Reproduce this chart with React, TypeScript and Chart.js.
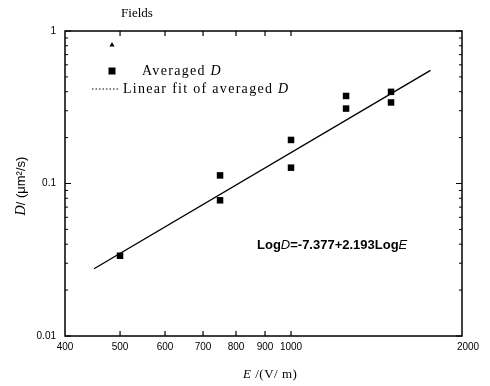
import React, { useEffect, useRef } from "react";
import { Chart, registerables } from "chart.js";

Chart.register(...registerables);

// ---- data ----
const fieldE = [500, 750, 750, 1000, 1000, 1250, 1250, 1500, 1500];
const averagedD = [0.0336, 0.113, 0.0776, 0.193, 0.127, 0.375, 0.31, 0.399, 0.34];
const fitE = [450, 1760];
const fitD = [0.0276, 0.551];
const xTickValues = [400, 500, 600, 700, 800, 900, 1000, 2000];
const xTickLabels = ["400", "500", "600", "700", "800", "900", "1000", "2000"];
const yTickValues = [0.01, 0.1, 1];
const yTickLabels = ["0.01", "0.1", "1"];
const yMinorValues = [0.02, 0.03, 0.04, 0.05, 0.06, 0.07, 0.08, 0.09, 0.2, 0.3, 0.4, 0.5, 0.6, 0.7, 0.8, 0.9];
const legendLabels = ["Averaged ", "Linear fit of averaged "];
const titleText = "Fields";

const SERIF = "'Liberation Serif', 'DejaVu Serif', serif";
const SANS = "'Liberation Sans', Arial, sans-serif";

const framePlugin = {
  id: "framePlugin",
  afterDraw(chart: any) {
    const ctx = chart.ctx as CanvasRenderingContext2D;
    const { left, right, top, bottom } = chart.chartArea;
    const xs = chart.scales.x;
    const ys = chart.scales.y;
    ctx.save();
    ctx.strokeStyle = "#000";
    ctx.fillStyle = "#000";
    ctx.lineWidth = 1.5;
    ctx.strokeRect(left, top, right - left, bottom - top);

    // x ticks (inward, bottom and top)
    ctx.lineWidth = 1.2;
    xTickValues.forEach((v) => {
      const px = xs.getPixelForValue(v);
      if (px <= left + 1 || px >= right - 1) return;
      ctx.beginPath();
      ctx.moveTo(px, bottom);
      ctx.lineTo(px, bottom - 5);
      ctx.moveTo(px, top);
      ctx.lineTo(px, top + 5);
      ctx.stroke();
    });
    // y ticks
    yTickValues.forEach((v) => {
      const py = ys.getPixelForValue(v);
      ctx.beginPath();
      ctx.moveTo(left, py);
      ctx.lineTo(left + 6, py);
      ctx.moveTo(right, py);
      ctx.lineTo(right - 6, py);
      ctx.stroke();
    });
    ctx.lineWidth = 1;
    yMinorValues.forEach((v) => {
      const py = ys.getPixelForValue(v);
      ctx.beginPath();
      ctx.moveTo(left, py);
      ctx.lineTo(left + 3, py);
      ctx.moveTo(right, py);
      ctx.lineTo(right - 3, py);
      ctx.stroke();
    });

    // x tick labels
    ctx.font = `10px ${SANS}`;
    ctx.textAlign = "center";
    ctx.textBaseline = "middle";
    xTickValues.forEach((v, i) => {
      const px = xs.getPixelForValue(v);
      ctx.fillText(xTickLabels[i], px + (v === 2000 ? 6 : 0), bottom + 11);
    });
    // y tick labels
    ctx.textAlign = "right";
    yTickValues.forEach((v, i) => {
      const py = ys.getPixelForValue(v);
      ctx.fillText(yTickLabels[i], left - 9, py);
    });

    // x axis title
    ctx.font = `italic 13px ${SERIF}`;
    ctx.textAlign = "left";
    (ctx as any).letterSpacing = "0.5px";
    let tx = 243;
    ctx.fillText("E", tx, 375);
    tx += ctx.measureText("E").width;
    ctx.font = `13px ${SERIF}`;
    ctx.fillText(" /(V/ m)", tx, 375);
    (ctx as any).letterSpacing = "0px";

    // y axis title (rotated)
    ctx.save();
    ctx.translate(21, 186);
    ctx.rotate(-Math.PI / 2);
    ctx.textAlign = "left";
    ctx.textBaseline = "middle";
    ctx.font = `italic 14px ${SERIF}`;
    const dW = ctx.measureText("D").width;
    ctx.font = `13px ${SANS}`;
    const restW = ctx.measureText("/ (\u03bcm\u00b2/s)").width;
    let sx = -(dW + restW) / 2;
    ctx.font = `italic 14px ${SERIF}`;
    ctx.fillText("D", sx, 0);
    sx += dW;
    ctx.font = `13px ${SANS}`;
    ctx.fillText("/ (\u03bcm\u00b2/s)", sx, 0);
    ctx.restore();

    // title "Fields"
    ctx.font = `13px ${SERIF}`;
    ctx.textAlign = "center";
    ctx.fillText(titleText, 137, 14);

    // legend
    // triangle
    ctx.beginPath();
    ctx.moveTo(112, 42);
    ctx.lineTo(114.5, 46.5);
    ctx.lineTo(109.5, 46.5);
    ctx.closePath();
    ctx.fill();
    // square
    ctx.fillRect(108.5, 67.5, 7, 7);
    // dotted line
    ctx.lineWidth = 1;
    ctx.setLineDash([1.5, 2]);
    ctx.beginPath();
    ctx.moveTo(92, 89);
    ctx.lineTo(118, 89);
    ctx.stroke();
    ctx.setLineDash([]);

    ctx.textAlign = "left";
    ctx.textBaseline = "middle";
    (ctx as any).letterSpacing = "1.3px";
    ctx.font = `14px ${SERIF}`;
    ctx.fillText(legendLabels[0], 142, 71);
    let lx = 142 + ctx.measureText(legendLabels[0]).width;
    ctx.font = `italic 14px ${SERIF}`;
    ctx.fillText("D", lx, 71);
    ctx.font = `14px ${SERIF}`;
    ctx.fillText(legendLabels[1], 123, 89);
    lx = 123 + ctx.measureText(legendLabels[1]).width;
    ctx.font = `italic 14px ${SERIF}`;
    ctx.fillText("D", lx, 89);
    (ctx as any).letterSpacing = "0px";

    // equation
    const parts: [string, string][] = [
      ["Log", `bold 13px ${SANS}`],
      ["D", `italic 13px ${SANS}`],
      ["=-7.377+2.193Log", `bold 13px ${SANS}`],
      ["E", `italic 13px ${SANS}`],
    ];
    let ex = 257;
    parts.forEach(([t, f]) => {
      ctx.font = f;
      ctx.fillText(t, ex, 245);
      ex += ctx.measureText(t).width;
    });

    ctx.restore();
  },
};

export default function App() {
  const ref = useRef<HTMLCanvasElement | null>(null);
  useEffect(() => {
    if (!ref.current) return;
    const chart = new Chart(ref.current, {
      type: "scatter",
      data: {
        datasets: [
          {
            label: "Averaged D",
            data: fieldE.map((e, i) => ({ x: e, y: averagedD[i] })),
            pointStyle: "rect",
            pointRadius: 4.6,
            backgroundColor: "#000",
            borderColor: "#000",
            borderWidth: 0,
            showLine: false,
          },
          {
            label: "Linear fit of averaged D",
            data: fitE.map((e, i) => ({ x: e, y: fitD[i] })),
            showLine: true,
            pointRadius: 0,
            borderColor: "#000",
            borderWidth: 1.4,
            fill: false,
          },
        ],
      },
      options: {
        animation: false,
        responsive: true,
        maintainAspectRatio: false,
        layout: { padding: { left: 65, top: 31, right: 28, bottom: 50 } },
        plugins: {
          legend: { display: false },
          tooltip: { enabled: false },
          title: { display: false },
        },
        scales: {
          x: { type: "logarithmic", min: 400, max: 2000, display: false },
          y: { type: "logarithmic", min: 0.01, max: 1, display: false },
        },
      },
      plugins: [framePlugin],
    });
    return () => chart.destroy();
  }, []);
  return (
    <div style={{ position: "absolute", left: 0, top: 0, width: 490, height: 386, background: "#fff" }}>
      <canvas ref={ref} />
    </div>
  );
}
